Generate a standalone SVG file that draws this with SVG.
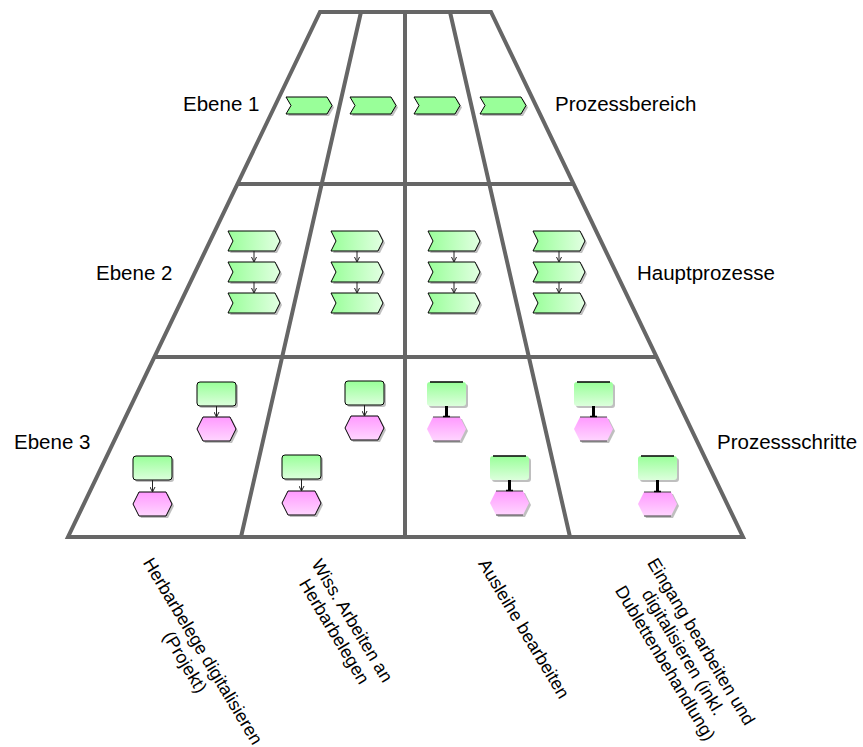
<svg xmlns="http://www.w3.org/2000/svg" width="863" height="747" viewBox="0 0 863 747">
<style>
.frame{fill:none;stroke:#666;stroke-width:4;stroke-linejoin:miter}
.lbl{font-family:"Liberation Sans",Arial,sans-serif;font-size:20.5px;fill:#000}
.cap{font-family:"Liberation Sans",Arial,sans-serif;font-size:18px;fill:#000;text-anchor:middle}
.sh{fill:#8a8a8a;opacity:0.55}
.c1{fill:#99ff99;stroke:#000;stroke-width:1}
.c2{fill:url(#gH);stroke:#000;stroke-width:1}
.ev{fill:url(#gV);stroke:#000;stroke-width:1}
.fn{fill:url(#gP);stroke:#000;stroke-width:1}
.ev2{fill:url(#gV);stroke:none}
.fn2{fill:url(#gP);stroke:none}
.edge{fill:none;stroke:#222;stroke-width:1}
.thick{fill:none;stroke:#000;stroke-width:3}
.bar{fill:none;stroke:#000;stroke-width:1.5}
.hbar{fill:none;stroke:#444;stroke-width:1}
</style>
<defs>
<linearGradient id="gH" x1="0" y1="0" x2="1" y2="0"><stop offset="0" stop-color="#99ff99"/><stop offset="1" stop-color="#e2ffe2"/></linearGradient>
<linearGradient id="gV" x1="0" y1="0" x2="0" y2="1"><stop offset="0" stop-color="#99ff99"/><stop offset="1" stop-color="#dcffdc"/></linearGradient>
<linearGradient id="gP" x1="0" y1="0" x2="0" y2="1"><stop offset="0" stop-color="#ff99ff"/><stop offset="1" stop-color="#ffd6ff"/></linearGradient>
<path id="ch1" d="M0,0 H41 L46,8.5 L41,17 H0 L5,8.5 Z"/>
<path id="ch2" d="M0,0 H47 L52,10 L47,20 H0 L5,10 Z"/>
<rect id="rc" x="0" y="0" width="39" height="24" rx="3" ry="3"/>
<path id="hx" d="M6,0 H33 L39,12 L33,24 H6 L0,12 Z"/>
<marker id="ah" markerWidth="6" markerHeight="6" refX="5" refY="3" orient="auto" markerUnits="userSpaceOnUse"><path d="M0,0.5 L5,3 L0,5.5" fill="none" stroke="#222" stroke-width="1"/></marker>
</defs>

<g id="frame">
<path class="frame" d="M320,12 H491 L743,537 H68 Z"/>
<path class="frame" d="M237,184 H574 M154,357 H657 M361,12 L241,537 M405,12 V537 M450,12 L570,537"/>
</g>

<g id="labels">
<text class="lbl" x="183" y="111">Ebene 1</text>
<text class="lbl" x="555" y="111">Prozessbereich</text>
<text class="lbl" x="96" y="280">Ebene 2</text>
<text class="lbl" x="637" y="280">Hauptprozesse</text>
<text class="lbl" x="14" y="449">Ebene 3</text>
<text class="lbl" x="717" y="449">Prozessschritte</text>
</g>

<g id="level1">
<g id="l1a"><use href="#ch1" x="288" y="99" class="sh"/><use href="#ch1" x="286" y="97" class="c1"/></g>
<g id="l1b"><use href="#ch1" x="352" y="99" class="sh"/><use href="#ch1" x="350" y="97" class="c1"/></g>
<g id="l1c"><use href="#ch1" x="416" y="99" class="sh"/><use href="#ch1" x="414" y="97" class="c1"/></g>
<g id="l1d"><use href="#ch1" x="482" y="99" class="sh"/><use href="#ch1" x="480" y="97" class="c1"/></g>
</g>

<g id="level2">
<g id="l2a1"><use href="#ch2" x="230" y="233" class="sh"/><use href="#ch2" x="228" y="231" class="c2"/></g>
<g id="l2a2"><use href="#ch2" x="230" y="264" class="sh"/><use href="#ch2" x="228" y="262" class="c2"/></g>
<g id="l2a3"><use href="#ch2" x="230" y="295" class="sh"/><use href="#ch2" x="228" y="293" class="c2"/></g>
<g id="l2b1"><use href="#ch2" x="333" y="233" class="sh"/><use href="#ch2" x="331" y="231" class="c2"/></g>
<g id="l2b2"><use href="#ch2" x="333" y="264" class="sh"/><use href="#ch2" x="331" y="262" class="c2"/></g>
<g id="l2b3"><use href="#ch2" x="333" y="295" class="sh"/><use href="#ch2" x="331" y="293" class="c2"/></g>
<g id="l2c1"><use href="#ch2" x="430" y="233" class="sh"/><use href="#ch2" x="428" y="231" class="c2"/></g>
<g id="l2c2"><use href="#ch2" x="430" y="264" class="sh"/><use href="#ch2" x="428" y="262" class="c2"/></g>
<g id="l2c3"><use href="#ch2" x="430" y="295" class="sh"/><use href="#ch2" x="428" y="293" class="c2"/></g>
<g id="l2d1"><use href="#ch2" x="535" y="233" class="sh"/><use href="#ch2" x="533" y="231" class="c2"/></g>
<g id="l2d2"><use href="#ch2" x="535" y="264" class="sh"/><use href="#ch2" x="533" y="262" class="c2"/></g>
<g id="l2d3"><use href="#ch2" x="535" y="295" class="sh"/><use href="#ch2" x="533" y="293" class="c2"/></g>
</g>

<g id="level3">
<g id="e1a"><use href="#rc" x="199" y="384" class="sh"/><use href="#rc" x="197" y="382" class="ev"/></g>
<g id="f1a"><use href="#hx" x="199" y="419" class="sh"/><use href="#hx" x="197" y="417" class="fn"/></g>
<g id="e1b"><use href="#rc" x="135" y="458" class="sh"/><use href="#rc" x="133" y="456" class="ev"/></g>
<g id="f1b"><use href="#hx" x="135" y="494" class="sh"/><use href="#hx" x="133" y="492" class="fn"/></g>
<g id="e2a"><use href="#rc" x="347" y="383" class="sh"/><use href="#rc" x="345" y="381" class="ev"/></g>
<g id="f2a"><use href="#hx" x="347" y="418" class="sh"/><use href="#hx" x="345" y="416" class="fn"/></g>
<g id="e2b"><use href="#rc" x="284" y="457" class="sh"/><use href="#rc" x="282" y="455" class="ev"/></g>
<g id="f2b"><use href="#hx" x="284" y="493" class="sh"/><use href="#hx" x="282" y="491" class="fn"/></g>
<g id="e3a"><use href="#rc" x="429" y="384" class="sh"/><use href="#rc" x="427" y="382" class="ev2"/><path d="M430,382 H463" class="bar"/></g>
<g id="f3a"><use href="#hx" x="429" y="419" class="sh"/><use href="#hx" x="427" y="417" class="fn2"/><path d="M433,417 H460 M433,441 H460" class="hbar"/></g>
<g id="e3b"><use href="#rc" x="492" y="458" class="sh"/><use href="#rc" x="490" y="456" class="ev2"/><path d="M493,456 H526" class="bar"/></g>
<g id="f3b"><use href="#hx" x="492" y="493" class="sh"/><use href="#hx" x="490" y="491" class="fn2"/><path d="M496,491 H523 M496,515 H523" class="hbar"/></g>
<g id="e4a"><use href="#rc" x="576" y="384" class="sh"/><use href="#rc" x="574" y="382" class="ev2"/><path d="M577,382 H610" class="bar"/></g>
<g id="f4a"><use href="#hx" x="576" y="419" class="sh"/><use href="#hx" x="574" y="417" class="fn2"/><path d="M580,417 H607 M580,441 H607" class="hbar"/></g>
<g id="e4b"><use href="#rc" x="640" y="458" class="sh"/><use href="#rc" x="638" y="456" class="ev2"/><path d="M641,456 H674" class="bar"/></g>
<g id="f4b"><use href="#hx" x="640" y="494" class="sh"/><use href="#hx" x="638" y="492" class="fn2"/><path d="M644,492 H671 M644,516 H671" class="hbar"/></g>
</g>

<g id="connectors">
<path class="edge" marker-end="url(#ah)" d="M254,251 V262"/>
<path class="edge" marker-end="url(#ah)" d="M254,282 V293"/>
<path class="edge" marker-end="url(#ah)" d="M357,251 V262"/>
<path class="edge" marker-end="url(#ah)" d="M357,282 V293"/>
<path class="edge" marker-end="url(#ah)" d="M454,251 V262"/>
<path class="edge" marker-end="url(#ah)" d="M454,282 V293"/>
<path class="edge" marker-end="url(#ah)" d="M559,251 V262"/>
<path class="edge" marker-end="url(#ah)" d="M559,282 V293"/>
<path class="edge" marker-end="url(#ah)" d="M216.5,406 V417"/>
<path class="edge" marker-end="url(#ah)" d="M152.5,480 V492"/>
<path class="edge" marker-end="url(#ah)" d="M364.5,405 V416"/>
<path class="edge" marker-end="url(#ah)" d="M301.5,479 V491"/>
<path class="thick" d="M446.5,406 V416"/>
<path class="thick" d="M509.5,480 V490"/>
<path class="thick" d="M593.5,406 V416"/>
<path class="thick" d="M657.5,480 V491"/>
<path class="bar" d="M443,416.5 H450 M506,490.5 H513 M590,416.5 H597 M654,491.5 H661"/>
</g>

<g id="captions">
<g transform="translate(197.7,654.3) rotate(59)"><text class="cap" x="0" y="0">Herbarbelege digitalisieren</text><text class="cap" x="0" y="21">(Projekt)</text></g>
<g transform="translate(347.1,623.7) rotate(59)"><text class="cap" x="0" y="0">Wiss. Arbeiten an</text><text class="cap" x="0" y="21">Herbarbelegen</text></g>
<g transform="translate(518.8,631.8) rotate(59)"><text class="cap" x="0" y="0">Ausleihe bearbeiten</text></g>
<g transform="translate(696,644.6) rotate(59)"><text class="cap" x="0" y="0">Eingang bearbeiten und</text><text class="cap" x="0" y="21">digitalisieren (inkl.</text><text class="cap" x="0" y="42">Dublettenbehandlung)</text></g>
</g>
</svg>
